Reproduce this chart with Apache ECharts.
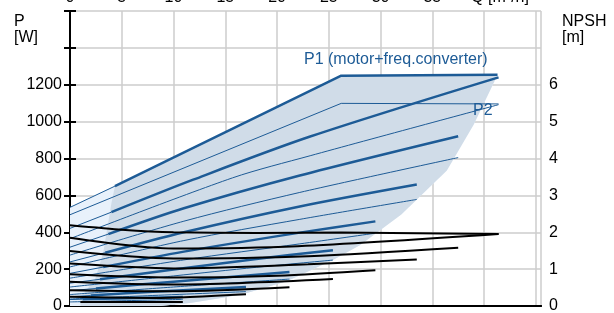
<!DOCTYPE html>
<html>
<head>
<meta charset="utf-8">
<script src="https://cdn.jsdelivr.net/npm/echarts@6/dist/echarts.min.js"></script>
<style>
  html, body { margin: 0; padding: 0; background: #fff; }
  #container { width: 614px; height: 313px; }
</style>
</head>
<body>
<div id="container"></div>
<script>
// flow ticks on the top axis, Q [m3/h]
var qTicks = [0, 5, 10, 15, 20, 25, 30, 35, 40, 45];

// P1 power curves (motor + freq. converter), one per speed, [Q, P]
// 2nd point of each curve = min. flow, the curve is thin left of it
var p1Max = [[0, 535], [4.34, 650], [26.2, 1249], [41.3, 1254]];
var p1Curves = [
    [[0, 35], [1.2, 37], [10.9, 49]],
    [[0, 50], [2.0, 57], [8, 77], [17.0, 103]],
    [[0, 83], [2.5, 95], [10, 132], [21.2, 184]],
    [[0, 124], [2.9, 145], [10, 198], [18, 255], [25.4, 303]],
    [[0, 177], [3.2, 211], [11, 295], [22.2, 398], [29.5, 459]],
    [[0, 239], [3.4, 289], [11, 400], [22.2, 540], [33.5, 659]],
    [[0, 319], [3.7, 390], [11, 530], [22.2, 708], [37.5, 921]],
    [[0, 421], [4.0, 509], [11.9, 685], [23.2, 919], [41.4, 1240]]
];

// P2 shaft power curves, [Q, P]
var p2Max = [[0, 495], [26.2, 1099], [41.4, 1096]];
var p2Curves = [
    [[0, 22], [10.9, 36]],
    [[0, 38], [8, 57], [17.0, 78]],
    [[0, 62], [10, 103], [21.2, 146]],
    [[0, 103], [10, 163], [18, 210], [25.4, 249]],
    [[0, 151], [11, 250], [22.2, 337], [29.5, 395]],
    [[0, 212], [11, 355], [22.2, 470], [33.5, 578]],
    [[0, 276], [11, 460], [22.2, 616], [37.5, 805]],
    [[0, 365], [15.7, 695], [23.2, 815], [41.4, 1092]]
];

// NPSH curves, [Q, m]
var npshMax = [[0, 2.19], [5, 2.07], [10, 2.0], [18, 1.98], [26.2, 1.99], [41.4, 1.95]];
var npshCurves = [
    [[1, 0.11], [10.9, 0.11]],
    [[0, 0.25], [8, 0.22], [17.0, 0.32]],
    [[0, 0.43], [10, 0.40], [21.2, 0.51]],
    [[0, 0.66], [10, 0.58], [25.4, 0.73]],
    [[0, 0.86], [10, 0.77], [20, 0.82], [29.5, 0.97]],
    [[0, 1.15], [10, 1.02], [23, 1.13], [33.5, 1.26]],
    [[0, 1.49], [10, 1.29], [23, 1.35], [37.5, 1.58]],
    [[0, 1.85], [10, 1.56], [22, 1.62], [41.4, 1.95]]
];

// operating area (outer, light) and the area above min. flow (dark)
var areaRight = [[26.2, 1249], [41.3, 1254], [39, 985], [36.4, 735], [32, 496], [28.0, 330],
    [25.4, 249], [21, 135], [17.1, 70], [15.2, 49], [11.6, 16], [8.7, 0]];
var areaOuterLeft = [[0, 0], [0, 535]];
var areaInnerLeft = [[1.0, 0], [1.0, 49], [2.4, 141], [3.2, 286], [4.0, 557], [4.34, 650]];

var BLUE = '#1d5b96';
var FONT = 'Liberation Sans, Arial, sans-serif';

var myChart = echarts.init(document.getElementById('container'));

function polygon(points, color) {
    return {
        type: 'custom',
        xAxisIndex: 0,
        yAxisIndex: 0,
        silent: true,
        z: 1,
        data: [0],
        renderItem: function (params, api) {
            var pts = points.map(function (p) { return api.coord(p); });
            return { type: 'polygon', shape: { points: pts }, style: { fill: color } };
        }
    };
}

function curve(data, color, width, yIndex, smooth) {
    return {
        type: 'line',
        xAxisIndex: 0,
        yAxisIndex: yIndex,
        data: data,
        symbol: 'none',
        smooth: smooth,
        silent: true,
        lineStyle: { color: color, width: width }
    };
}

var series = [
    polygon(areaOuterLeft.concat(areaRight), '#e8f1fb'),
    polygon(areaInnerLeft.concat(areaRight), '#d0dce8')
];
p2Curves.forEach(function (c) { series.push(curve(c, BLUE, 1, 0, 0.3)); });
series.push(curve(p2Max, BLUE, 1, 0, false));
p1Curves.forEach(function (c) {
    series.push(curve(c.slice(0, 2), BLUE, 1, 0, false));
    series.push(curve(c.slice(1), BLUE, 2.5, 0, 0.3));
});
series.push(curve(p1Max.slice(0, 2), BLUE, 1, 0, false));
series.push(curve(p1Max.slice(1), BLUE, 2.5, 0, false));
npshCurves.forEach(function (c) { series.push(curve(c, '#000', 2, 1, 0.3)); });
series.push(curve(npshMax, '#000', 2, 1, 0.2));

option = {
    backgroundColor: '#fff',
    animation: false,
    textStyle: { fontFamily: FONT },
    grid: { left: 70, right: 73, top: 11, bottom: 7, outerBoundsMode: 'none', containLabel: false },
    xAxis: [{
        type: 'value',
        position: 'top',
        min: 0,
        max: 45.5,
        interval: 5,
        axisLine: { show: true, lineStyle: { color: '#000', width: 2 } },
        axisTick: { show: false },
        splitLine: { show: true, lineStyle: { color: '#cccccc', width: 1.5 } },
        axisLabel: {
            margin: 5,
            fontSize: 16,
            color: '#000',
            showMaxLabel: false,
            formatter: function (v) {
                if (v === 40) return '{q|Q [m³/h]}';
                if (v === 45) return '';
                return qTicks.indexOf(v) >= 0 ? String(v) : '';
            },
            rich: { q: { fontSize: 16, color: '#000', padding: [0, 0, 0, 32] } }
        }
    }, {
        type: 'value',
        position: 'bottom',
        min: 0,
        max: 45.5,
        axisLine: { show: true, onZero: false, lineStyle: { color: '#000', width: 2 } },
        axisTick: { show: false },
        axisLabel: { show: false },
        splitLine: { show: false }
    }],
    yAxis: [{
        type: 'value',
        min: 0,
        max: 1600,
        interval: 200,
        axisLine: { show: true, lineStyle: { color: '#000', width: 2 } },
        axisTick: { show: true, length: 6, lineStyle: { color: '#000', width: 2 } },
        splitLine: { show: true, lineStyle: { color: '#cccccc', width: 1.5 } },
        axisLabel: {
            fontSize: 16,
            color: '#000',
            margin: 8,
            formatter: function (v) { return v <= 1200 ? String(v) : ''; }
        }
    }, {
        type: 'value',
        position: 'right',
        min: 0,
        max: 8,
        interval: 1,
        axisLine: { show: true, lineStyle: { color: '#000', width: 2 } },
        axisTick: { show: true, length: 6, lineStyle: { color: '#000', width: 2 } },
        splitLine: { show: false },
        axisLabel: {
            fontSize: 16,
            color: '#000',
            margin: 8,
            formatter: function (v) { return v <= 6 ? String(v) : ''; }
        }
    }],
    graphic: [
        { type: 'text', z: 100, left: 14, top: 14, style: { text: 'P\n[W]', fontSize: 16, fontFamily: FONT, fill: '#000', align: 'center', lineHeight: 16 } },
        { type: 'text', z: 100, left: 562, top: 14, style: { text: 'NPSH\n[m]', fontSize: 16, fontFamily: FONT, fill: '#000', align: 'center', lineHeight: 16 } },
        { type: 'text', z: 100, left: 304, top: 52, style: { text: 'P1 (motor+freq.converter)', fontSize: 16, fontFamily: FONT, fill: BLUE } },
        { type: 'text', z: 100, left: 473, top: 103, style: { text: 'P2', fontSize: 16, fontFamily: FONT, fill: BLUE } }
    ],
    series: series
};

myChart.setOption(option);
</script>
</body>
</html>
